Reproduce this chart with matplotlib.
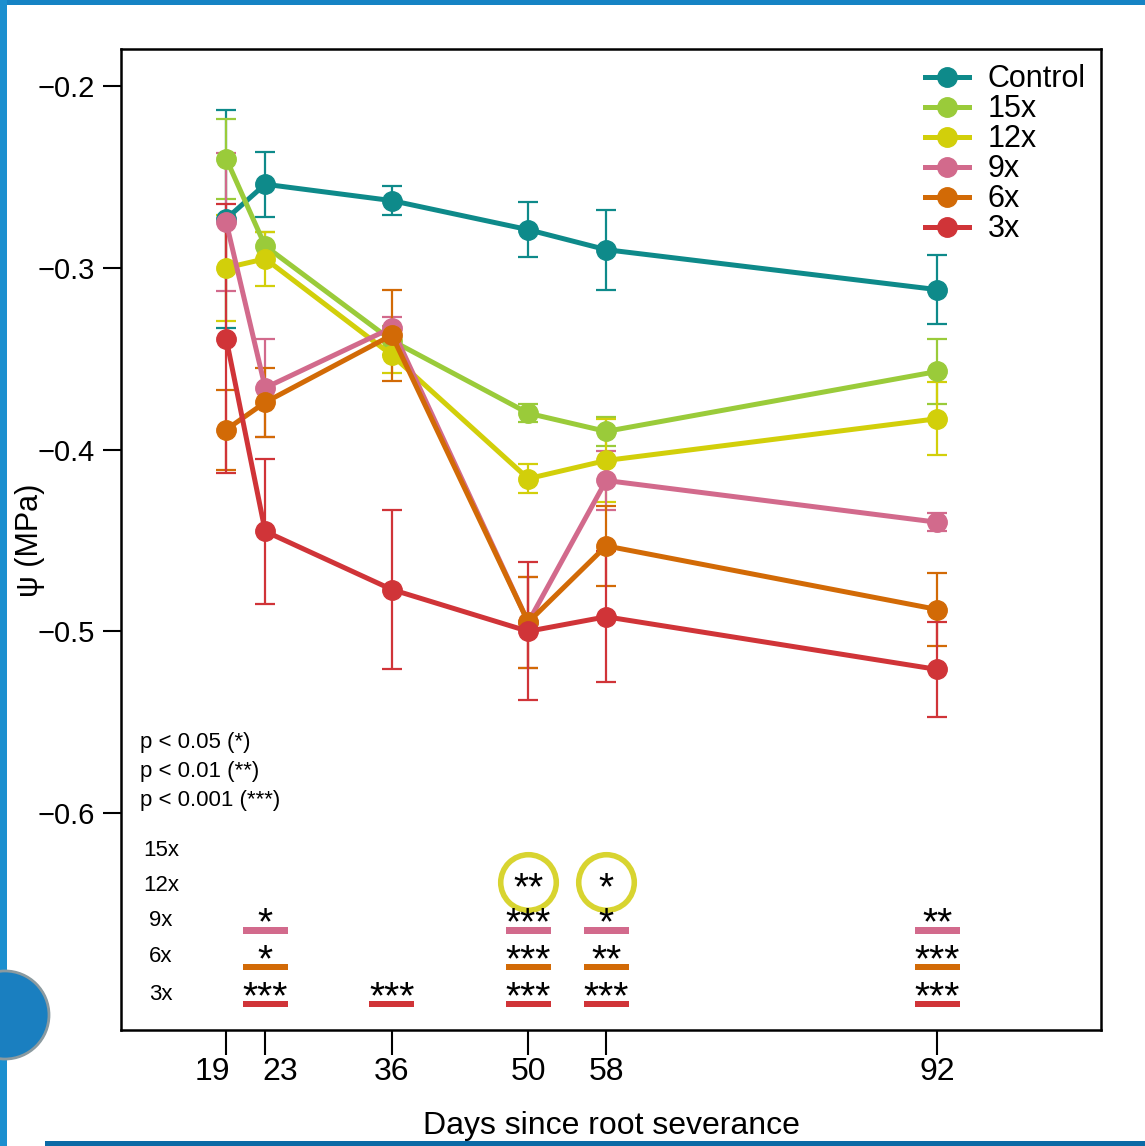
import numpy as np
import matplotlib.pyplot as plt
from matplotlib.patches import Circle, Rectangle

plt.rcParams['font.family'] = ['Liberation Sans', 'DejaVu Sans']

days = [19, 23, 36, 50, 58, 92]
groups = ['Control', '15x', '12x', '9x', '6x', '3x']
colors = ['#0e8a8a', '#9acb3a', '#d2cf0a', '#d26a8c', '#d26a06', '#d03438']

# mean water potential (MPa) and error per group
psi_control = [-0.273, -0.254, -0.263, -0.279, -0.290, -0.312]
psi_15x = [-0.240, -0.288, -0.340, -0.380, -0.390, -0.357]
psi_12x = [-0.300, -0.295, -0.348, -0.416, -0.406, -0.383]
psi_9x = [-0.275, -0.366, -0.333, -0.495, -0.417, -0.440]
psi_6x = [-0.389, -0.374, -0.337, -0.495, -0.453, -0.488]
psi_3x = [-0.339, -0.445, -0.477, -0.500, -0.492, -0.521]

err_control = [0.060, 0.018, 0.008, 0.015, 0.022, 0.019]
err_15x = [0.022, 0.008, 0.008, 0.005, 0.008, 0.018]
err_12x = [0.029, 0.015, 0.010, 0.008, 0.023, 0.020]
err_9x = [0.038, 0.027, 0.006, 0.025, 0.016, 0.005]
err_6x = [0.022, 0.019, 0.025, 0.025, 0.022, 0.020]
err_3x = [0.074, 0.040, 0.044, 0.038, 0.036, 0.026]

means = [psi_control, psi_15x, psi_12x, psi_9x, psi_6x, psi_3x]
errs = [err_control, err_15x, err_12x, err_9x, err_6x, err_3x]

# significance vs. control: (day, stars) per treatment row
sig_rows = ['15x', '12x', '9x', '6x', '3x']
sig_15x = []
sig_12x = [(50, '**'), (58, '*')]
sig_9x = [(23, '*'), (50, '***'), (58, '*'), (92, '**')]
sig_6x = [(23, '*'), (50, '***'), (58, '**'), (92, '***')]
sig_3x = [(23, '***'), (36, '***'), (50, '***'), (58, '***'), (92, '***')]
sig_marks = [sig_15x, sig_12x, sig_9x, sig_6x, sig_3x]
circled = [(50, '12x'), (58, '12x')]

fig = plt.figure(figsize=(11.45, 11.46), dpi=100)
ax = fig.add_axes([0.1057, 0.1012, 0.8559, 0.856])
px = 0.5398 / 981  # one pixel in data units (y)

for name, col, m, e in zip(groups, colors, means, errs):
    ax.errorbar(days, m, yerr=e, fmt='none', ecolor=col, elinewidth=1.6,
                capsize=7, capthick=1.6, zorder=2)
    ax.plot(days, m, '-o', color=col, lw=3.6, ms=14, label=name, zorder=3)

ax.set_xlim(8.2, 108.8)
ax.set_ylim(-0.7194, -0.1796)
ax.set_xticks(days)
ax.set_xticklabels([])
ax.set_yticks([-0.2, -0.3, -0.4, -0.5, -0.6])
ax.tick_params(axis='y', labelsize=21, length=13, width=1.5, pad=6)
ax.tick_params(axis='x', length=18, width=1.5)
for s in ax.spines.values():
    s.set_linewidth(1.8)

# day labels, nudged apart where ticks sit close together
label_shift = {19: -1.4, 23: 1.5}
for d in days:
    ax.text(d + label_shift.get(d, 0), -0.7194 - 42 * px, str(d), ha='center', va='center',
            fontsize=23, clip_on=False)
ax.text(0.5, -0.0975, 'Days since root severance', transform=ax.transAxes,
        ha='center', va='center', fontsize=23)
fig.text(30 / 1145, 1 - 540 / 1146, 'ψ (MPa)', rotation=90, ha='center', va='center',
         fontsize=22)

leg = ax.legend(loc='upper right', fontsize=22, frameon=False, handlelength=1.45,
                labelspacing=0.0, handletextpad=0.6, borderaxespad=0.1,
                bbox_to_anchor=(1.0, 1.0))

# p-value key
for i, t in enumerate(['p < 0.05 (*)', 'p < 0.01 (**)', 'p < 0.001 (***)']):
    ax.text(0.019, 0.2926 - i * 0.0295, t, transform=ax.transAxes,
            fontsize=16, va='center', ha='left')

row_y = [-0.6204, -0.6396, -0.6589, -0.6792, -0.6996]
bar_w = 4.6
for r, (row, marks, y) in enumerate(zip(sig_rows, sig_marks, row_y)):
    col = colors[groups.index(row)]
    ax.text(12.3, y, row, fontsize=16, ha='center', va='center')
    for d, stars in marks:
        ax.text(d, y - 14 * px, stars, fontsize=28, ha='center', va='baseline',
                zorder=5)
        if (d, row) in circled:
            continue
        ax.add_patch(Rectangle((d - bar_w / 2, y - 0.0074), bar_w, 0.0034,
                               color=col, lw=0, zorder=3))

for d, row in circled:
    y = row_y[sig_rows.index(row)]
    ax.plot(d, y + 0.0015, 'o', ms=40, mfc='none', mec='#d8d430', mew=4, zorder=4)

# page border
fig.add_artist(Rectangle((0, 1 - 5 / 1146), 1, 5 / 1146, transform=fig.transFigure,
                         color='#1583c4', lw=0))
fig.add_artist(Rectangle((0, 0), 7 / 1145, 1, transform=fig.transFigure,
                         color='#1b8fcf', lw=0))
fig.add_artist(Rectangle((45 / 1145, 0), 1, 5 / 1146, transform=fig.transFigure,
                         color='#0b6aa6', lw=0))
fig.add_artist(Circle((5 / 1145, 1 - 1015 / 1146), 44 / 1145, transform=fig.transFigure,
                      fc='#1a7fc0', ec='#8a9aa0', lw=2))

fig.savefig('out.png', dpi=100)
